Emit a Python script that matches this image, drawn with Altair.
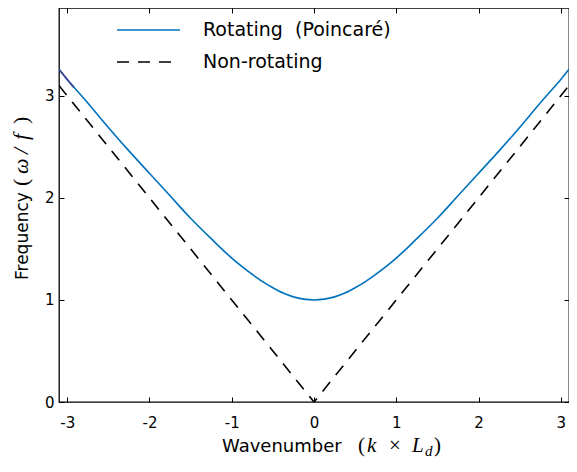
import altair as alt
import pandas as pd

# Rotating (Poincaré) branch
k_rot = [-3.1, -3.0, -2.75, -2.5, -2.25, -2.0, -1.75, -1.5, -1.25, -1.0, -0.75, -0.625, -0.5,
         -0.375, -0.25, -0.125, 0.0, 0.125, 0.25, 0.375, 0.5, 0.625, 0.75, 1.0, 1.25, 1.5,
         1.75, 2.0, 2.25, 2.5, 2.75, 3.0, 3.1]
w_rot = [3.26, 3.16, 2.93, 2.69, 2.46, 2.24, 2.02, 1.80, 1.60, 1.41, 1.25, 1.18, 1.12,
         1.068, 1.03, 1.008, 1.00, 1.008, 1.03, 1.068, 1.12, 1.18, 1.25, 1.41, 1.60, 1.80,
         2.02, 2.24, 2.46, 2.69, 2.93, 3.16, 3.26]
# short darker piece visible at the far left end of the rotating curve
k_dark = [-3.1, -3.0, -2.92]
w_dark = [3.26, 3.16, 3.08]
# Non-rotating branch
k_non = [-3.1, 0.0, 3.1]
w_non = [3.1, 0.0, 3.1]

series_names = ["Rotating\u00a0\u00a0(Poincaré)", "Non-rotating"]
series_colors = ["#0072BD", "black"]
dark_color = "#3F3F8F"
x_ticks = [-3, -2, -1, 0, 1, 2, 3]
y_ticks = [0, 1, 2, 3]

df_rot = pd.DataFrame({"k": k_rot, "w": w_rot})
df_dark = pd.DataFrame({"k": k_dark, "w": w_dark})
df_non = pd.DataFrame({"k": k_non, "w": w_non})

W, H = 510, 394
FONT = "DejaVu Sans"
MATH = "Liberation Serif"
DASH = [12, 9]

xs = alt.Scale(domain=[-3.1, 3.1], nice=False, zero=False)
ys = alt.Scale(domain=[0, 3.86], nice=False, zero=False)

ax_common = dict(domain=False, tickSize=5, offset=-5, grid=False, title=None,
                 tickColor="black", tickWidth=1)

rot = alt.Chart(df_rot).mark_line(strokeWidth=1.6, clip=True, interpolate="catmull-rom",
                                  color=series_colors[0]).encode(
    x=alt.X("k:Q", scale=xs,
            axis=alt.Axis(values=x_ticks, labelPadding=13, labelFontSize=15, labelFont=FONT,
                          labelColor="black", labelExpr="'' + datum.value", **ax_common)),
    y=alt.Y("w:Q", scale=ys,
            axis=alt.Axis(values=y_ticks, labelPadding=5, labelFontSize=15, labelFont=FONT,
                          labelColor="black", labelExpr="'' + datum.value", **ax_common)),
    order=alt.Order("k:Q"),
)

dark = alt.Chart(df_dark).mark_line(strokeWidth=1.6, clip=True, color=dark_color).encode(
    x=alt.X("k:Q", scale=xs, axis=None),
    y=alt.Y("w:Q", scale=ys, axis=None),
    order=alt.Order("k:Q"),
)

non = alt.Chart(df_non).mark_line(strokeWidth=1.6, clip=True, color=series_colors[1],
                                  strokeDash=DASH).encode(
    x=alt.X("k:Q", scale=xs,
            axis=alt.Axis(orient="top", values=x_ticks, labels=False, **ax_common)),
    y=alt.Y("w:Q", scale=ys,
            axis=alt.Axis(orient="right", values=y_ticks, labels=False, **ax_common)),
    order=alt.Order("k:Q"),
)

def label(txt, x, y, font=FONT, size=17.5, style="normal", angle=0, baseline="alphabetic"):
    return alt.Chart(pd.DataFrame({"t": [txt]})).mark_text(
        font=font, fontSize=size, fontStyle=style, angle=angle, align="left",
        baseline=baseline, color="black").encode(
        text="t:N", x=alt.value(x), y=alt.value(y))

def key_line(i, y):
    return alt.Chart(pd.DataFrame({"s": [series_names[i]]})).mark_rule(
        color=series_colors[i], strokeWidth=1.6, strokeDash=([1, 0] if i == 0 else DASH)).encode(
        x=alt.value(58), x2=alt.value(121), y=alt.value(y))

legend = [
    key_line(0, 22), label(series_names[0], 144, 22, size=19, baseline="middle"),
    key_line(1, 54), label(series_names[1], 144, 54, size=19, baseline="middle"),
]

YT = -31
titles = [
    label("Wavenumber", 163, 444, size=18),
    label("(", 299, 444, font=MATH, size=21),
    label("k", 308, 444, font=MATH, size=21, style="italic"),
    label("×", 330, 444, font=MATH, size=21),
    label("L", 353, 444, font=MATH, size=21, style="italic"),
    label("d", 366, 448, font=MATH, size=15, style="italic"),
    label(")", 375, 444, font=MATH, size=21),
    label("Frequency", YT, 272, size=17, angle=270),
    label("(", YT, 178, font=MATH, size=22, angle=270),
    label("ω", YT, 166, font=MATH, size=22, style="italic", angle=270),
    label("/", YT, 146, font=MATH, size=22, style="italic", angle=270),
    label("f", YT, 132, font=MATH, size=22, style="italic", angle=270),
    label(")", YT, 116, font=MATH, size=22, angle=270),
]

chart = alt.layer(rot, dark, non, *legend, *titles).resolve_axis(
    x="independent", y="independent").properties(
    width=W, height=H,
    autosize=alt.AutoSizeParams(type="none"),
    padding={"left": 51, "top": 0, "right": 0, "bottom": 58},
).configure_view(stroke="black", strokeWidth=1.3)

chart.save("out.html", embed_options={"renderer": "svg", "actions": False})
